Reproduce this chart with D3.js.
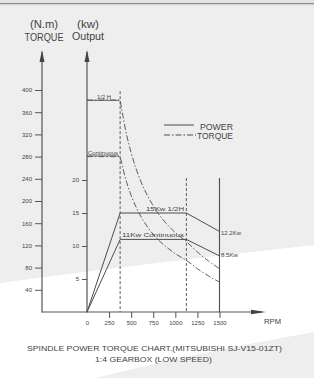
<!DOCTYPE html>
<html>
<head>
    <meta charset="utf-8">
    <style>
        body { margin: 0; background: #eeeeee; }
        svg { display: block; }
        text { font-family: "Liberation Sans", Arial, sans-serif; fill: #444; }
    </style>
</head>
<body>
    <script src="https://cdn.jsdelivr.net/npm/d3@7"></script>
    <script>
        // values
        var rpmTicks = [0, 250, 500, 750, 1000, 1250, 1500];
        var torqueTicks = [40, 80, 120, 160, 200, 240, 280, 320, 360, 400];
        var powerTicks = [5, 10, 15, 20];

        var powerRpm = [0, 375, 1125, 1500];
        var powerHalf = [0, 15, 15, 12.2];
        var powerCont = [0, 11, 11, 8.5];

        var torqueRpm = [375, 450, 500, 600, 700, 800, 900, 1000, 1125, 1250, 1375, 1500];
        var torqueHalf = [382, 318, 287, 239, 205, 179, 159, 143, 127, 108, 92, 78];
        var torqueCont = [280, 233, 210, 175, 150, 131, 117, 105, 93, 78, 65, 54];

        var width = 314, height = 378;
        var lineColor = '#4d4d4d';

        var svg = d3.select('body').append('svg')
            .attr('width', width)
            .attr('height', height);

        // background: grey page with white swoosh
        svg.append('rect').attr('width', width).attr('height', height).attr('fill', '#eeeeee');
        svg.append('path')
            .attr('d', 'M0,283 Q157,262 314,245 L314,332 Q200,352 95,378 L0,378 Z')
            .attr('fill', '#ffffff');
        svg.append('rect').attr('x', 0).attr('y', 0).attr('width', width).attr('height', 3).attr('fill', '#e2e2e2');
        svg.append('rect').attr('x', 0).attr('y', 3).attr('width', width).attr('height', 1.3).attr('fill', '#8c8c8c');
        svg.append('rect').attr('x', 0).attr('y', 4.3).attr('width', width).attr('height', 1).attr('fill', '#d6d6d6');

        var xScale = d3.scaleLinear().domain([0, 1500]).range([87, 219.5]);
        var yTorque = d3.scaleLinear().domain([0, 400]).range([312, 90]);
        var yPower = d3.scaleLinear().domain([0, 20]).range([312, 180]);

        // axes
        var torqueAxis = d3.axisLeft(yTorque).tickValues(torqueTicks).tickSize(7).tickPadding(3);
        var torqueNodes = svg.append('g').attr('transform', 'translate(42,0)').call(torqueAxis);
        styleAxisNodes(torqueNodes);

        var powerAxis = d3.axisLeft(yPower).tickValues(powerTicks).tickSize(5).tickPadding(3);
        var powerNodes = svg.append('g').attr('transform', 'translate(87,0)').call(powerAxis);
        styleAxisNodes(powerNodes);

        var rpmAxis = d3.axisBottom(xScale).tickValues(rpmTicks).tickSize(6).tickPadding(3)
            .tickFormat(d3.format('d'));
        var rpmNodes = svg.append('g').attr('transform', 'translate(0,312)').call(rpmAxis);
        styleAxisNodes(rpmNodes);
        rpmNodes.selectAll('.tick line').filter(function (d) { return d === 0; }).remove();

        // axis lines with arrows
        var axisG = svg.append('g').attr('stroke', '#555').attr('stroke-width', 1.2);
        axisG.append('line').attr('x1', 42).attr('x2', 42).attr('y1', 52).attr('y2', 312.5);
        axisG.append('line').attr('x1', 87).attr('x2', 87).attr('y1', 52).attr('y2', 312.5);
        axisG.append('line').attr('x1', 42).attr('x2', 262).attr('y1', 312).attr('y2', 312);
        svg.append('path').attr('d', 'M42,50 L39.5,62 L44.5,62 Z').attr('fill', '#444');
        svg.append('path').attr('d', 'M87,50 L84.5,62 L89.5,62 Z').attr('fill', '#444');
        svg.append('path').attr('d', 'M266,312 L251,309.8 L251,314.2 Z').attr('fill', '#444');

        // speed markers
        svg.append('line').attr('x1', xScale(375)).attr('x2', xScale(375))
            .attr('y1', yTorque(398)).attr('y2', 312)
            .attr('stroke', lineColor).attr('stroke-width', 0.9).attr('stroke-dasharray', '3,2');
        svg.append('line').attr('x1', xScale(1125)).attr('x2', xScale(1125))
            .attr('y1', yPower(20.3)).attr('y2', 312)
            .attr('stroke', lineColor).attr('stroke-width', 0.9).attr('stroke-dasharray', '3,2');
        svg.append('line').attr('x1', xScale(1500)).attr('x2', xScale(1500))
            .attr('y1', yPower(20.3)).attr('y2', 312)
            .attr('stroke', lineColor).attr('stroke-width', 1.1);

        // power curves
        var powerLine = d3.line()
            .x(function (d) { return xScale(d[0]); })
            .y(function (d) { return yPower(d[1]); });
        [powerHalf, powerCont].forEach(function (vals) {
            svg.append('path')
                .attr('d', powerLine(d3.zip(powerRpm, vals)))
                .attr('fill', 'none').attr('stroke', lineColor).attr('stroke-width', 1);
        });

        // torque curves (flat part + falling part)
        var torqueLine = d3.line()
            .x(function (d) { return xScale(d[0]); })
            .y(function (d) { return yTorque(d[1]); })
            .curve(d3.curveMonotoneX);
        [torqueHalf, torqueCont].forEach(function (vals) {
            var pts = d3.zip(torqueRpm, vals);
            svg.append('path')
                .attr('d', d3.line()([[xScale(0), yTorque(vals[0])], [xScale(375), yTorque(vals[0])]]) +
                    torqueLine(pts).replace(/^M/, 'L'))
                .attr('fill', 'none').attr('stroke', lineColor).attr('stroke-width', 0.9)
                .attr('stroke-dasharray', '6,2,1.5,2');
        });

        // small labels on the curves
        function label(txt, x, y, size, len, underline) {
            var t = svg.append('text').attr('x', x).attr('y', y)
                .attr('font-size', size).text(txt);
            if (len) t.attr('textLength', len).attr('lengthAdjust', 'spacingAndGlyphs');
            if (underline) {
                svg.append('line').attr('x1', underline[0]).attr('x2', underline[1])
                    .attr('y1', y + 1.4).attr('y2', y + 1.4)
                    .attr('stroke', lineColor).attr('stroke-width', 0.8);
            }
            return t;
        }
        label('1/2 H', 97, 99, 4.5, 14, [87, 119]);
        label('Continuous', 88, 154.5, 4.5, 30, [87, 119]);
        label('15Kw 1/2H', 146, 211, 5.5, 38, null);
        label('11Kw Continuous', 122, 237.3, 5.5, 62, null);
        label('12.2Kw', 221, 235, 5.2, 20, null);
        label('8.5Kw', 221, 257, 5.2, 17, null);

        // legend
        svg.append('line').attr('x1', 164).attr('x2', 194).attr('y1', 125).attr('y2', 125)
            .attr('stroke', lineColor).attr('stroke-width', 1);
        svg.append('line').attr('x1', 164).attr('x2', 196).attr('y1', 135).attr('y2', 135)
            .attr('stroke', lineColor).attr('stroke-width', 1).attr('stroke-dasharray', '6,2,1.5,2');
        label('POWER', 200, 129.5, 8.5, 33, null);
        label('TORQUE', 197, 139, 8.5, 36, null);

        // axis titles
        svg.append('text').attr('x', 44).attr('y', 28).attr('text-anchor', 'middle')
            .attr('font-size', 10).attr('textLength', 28).attr('lengthAdjust', 'spacingAndGlyphs').text('(N.m)');
        svg.append('text').attr('x', 44).attr('y', 41).attr('text-anchor', 'middle')
            .attr('font-size', 10).attr('textLength', 39).attr('lengthAdjust', 'spacingAndGlyphs').text('TORQUE');
        svg.append('text').attr('x', 88).attr('y', 28).attr('text-anchor', 'middle')
            .attr('font-size', 10).attr('textLength', 22).attr('lengthAdjust', 'spacingAndGlyphs').text('(kw)');
        svg.append('text').attr('x', 88).attr('y', 40).attr('text-anchor', 'middle')
            .attr('font-size', 10).attr('textLength', 32).attr('lengthAdjust', 'spacingAndGlyphs').text('Output');

        label('RPM', 264, 323.5, 8, 17, null);

        // title
        svg.append('text').attr('x', 27).attr('y', 350.5).attr('font-size', 7.6)
            .attr('textLength', 255).attr('lengthAdjust', 'spacingAndGlyphs')
            .text('SPINDLE POWER TORQUE CHART.(MITSUBISHI SJ-V15-01ZT)');
        svg.append('text').attr('x', 95).attr('y', 361.5).attr('font-size', 7.6)
            .attr('textLength', 117).attr('lengthAdjust', 'spacingAndGlyphs')
            .text('1:4 GEARBOX (LOW SPEED)');

        function styleAxisNodes(axisNodes) {
            axisNodes.select('.domain').remove();
            axisNodes.selectAll('.tick line')
                .attr('stroke', '#555')
                .attr('stroke-width', 1);
            axisNodes.selectAll('.tick text')
                .attr('font-size', 6)
                .attr('font-family', '"Liberation Sans", Arial, sans-serif')
                .attr('fill', '#444');
        }
    </script>
</body>
</html>
